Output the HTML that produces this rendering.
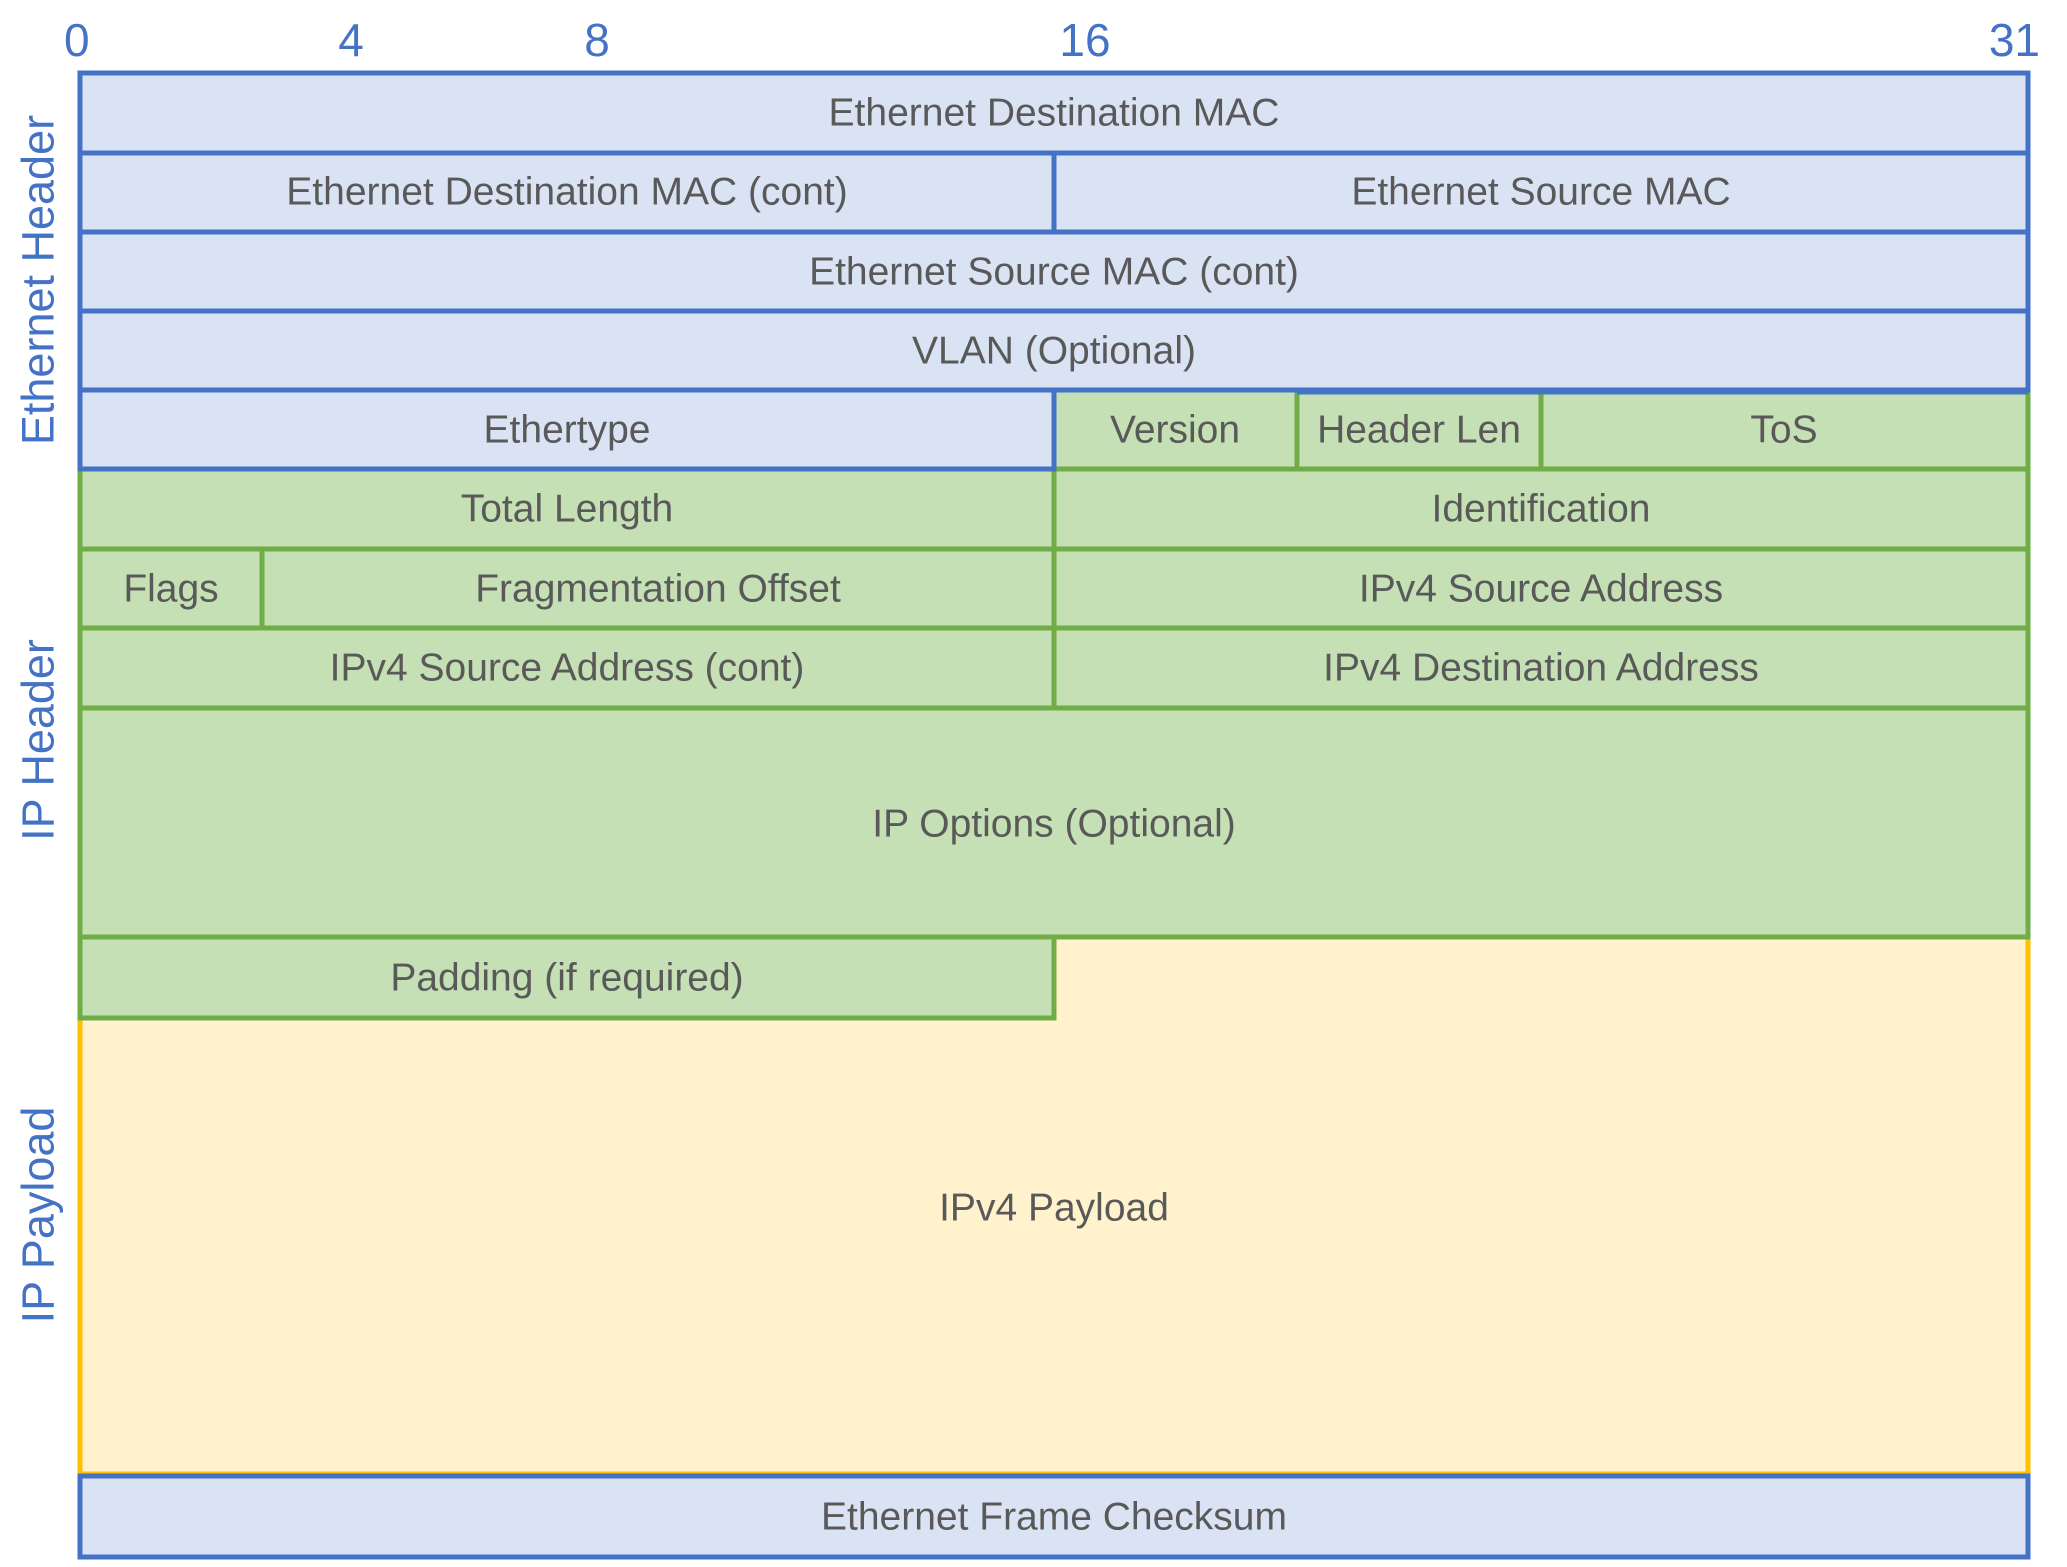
<!DOCTYPE html>
<html><head><meta charset="utf-8"><style>
html,body{margin:0;padding:0;background:#fff;}
svg{display:block;}
text{font-family:"Liberation Sans",sans-serif;}
.c{font-size:39px;fill:#595959;text-anchor:middle;dominant-baseline:central;}
.t{font-size:46px;fill:#4472C4;}
.v{font-size:45px;fill:#4472C4;text-anchor:middle;dominant-baseline:central;}
</style></head><body>
<svg width="2067" height="1567" viewBox="0 0 2067 1567" xmlns="http://www.w3.org/2000/svg">
<text class="t" x="64" y="56">0</text>
<text class="t" x="351" y="56" text-anchor="middle">4</text>
<text class="t" x="597" y="56" text-anchor="middle">8</text>
<text class="t" x="1085" y="56" text-anchor="middle">16</text>
<text class="t" x="2040" y="56" text-anchor="end">31</text>
<text class="v" transform="translate(38,280) rotate(-90)">Ethernet Header</text>
<text class="v" transform="translate(38,740) rotate(-90)">IP Header</text>
<text class="v" transform="translate(38,1215) rotate(-90)">IP Payload</text>

<g stroke-width="5">
<rect x="80" y="937" width="1948" height="537" fill="#FFF2CC" stroke="#FFC000"/>
<g fill="#C5E0B4" stroke="#70AD47">
<rect x="1054" y="390" width="243" height="79"/>
<rect x="1297" y="390" width="244" height="79"/>
<rect x="1541" y="390" width="487" height="79"/>
<rect x="80" y="469" width="974" height="80"/>
<rect x="1054" y="469" width="974" height="80"/>
<rect x="80" y="549" width="182" height="79"/>
<rect x="262" y="549" width="792" height="79"/>
<rect x="1054" y="549" width="974" height="79"/>
<rect x="80" y="628" width="974" height="80"/>
<rect x="1054" y="628" width="974" height="80"/>
<rect x="80" y="708" width="1948" height="229"/>
<rect x="80" y="937" width="974" height="81"/>
</g>
<g fill="#DAE3F3" stroke="#4472C4">
<rect x="80" y="73" width="1948" height="80"/>
<rect x="80" y="153" width="974" height="79"/>
<rect x="1054" y="153" width="974" height="79"/>
<rect x="80" y="232" width="1948" height="79"/>
<rect x="80" y="311" width="1948" height="79"/>
<rect x="80" y="390" width="974" height="79"/>
<rect x="80" y="1476" width="1948" height="81"/>
</g>
<line x1="1297" y1="392" x2="2028" y2="392" stroke="#4472C4"/>
</g>

<text class="c" x="1054" y="113">Ethernet Destination MAC</text>
<text class="c" x="567" y="192">Ethernet Destination MAC (cont)</text>
<text class="c" x="1541" y="192">Ethernet Source MAC</text>
<text class="c" x="1054" y="272">Ethernet Source MAC (cont)</text>
<text class="c" x="1054" y="351">VLAN (Optional)</text>
<text class="c" x="567" y="430">Ethertype</text>
<text class="c" x="1175" y="430">Version</text>
<text class="c" x="1419" y="430">Header Len</text>
<text class="c" x="1784" y="430">ToS</text>
<text class="c" x="567" y="509">Total Length</text>
<text class="c" x="1541" y="509">Identification</text>
<text class="c" x="171" y="589">Flags</text>
<text class="c" x="658" y="589">Fragmentation Offset</text>
<text class="c" x="1541" y="589">IPv4 Source Address</text>
<text class="c" x="567" y="668">IPv4 Source Address (cont)</text>
<text class="c" x="1541" y="668">IPv4 Destination Address</text>
<text class="c" x="1054" y="824">IP Options (Optional)</text>
<text class="c" x="567" y="978">Padding (if required)</text>
<text class="c" x="1054" y="1208">IPv4 Payload</text>
<text class="c" x="1054" y="1517">Ethernet Frame Checksum</text>
</svg>
</body></html>
